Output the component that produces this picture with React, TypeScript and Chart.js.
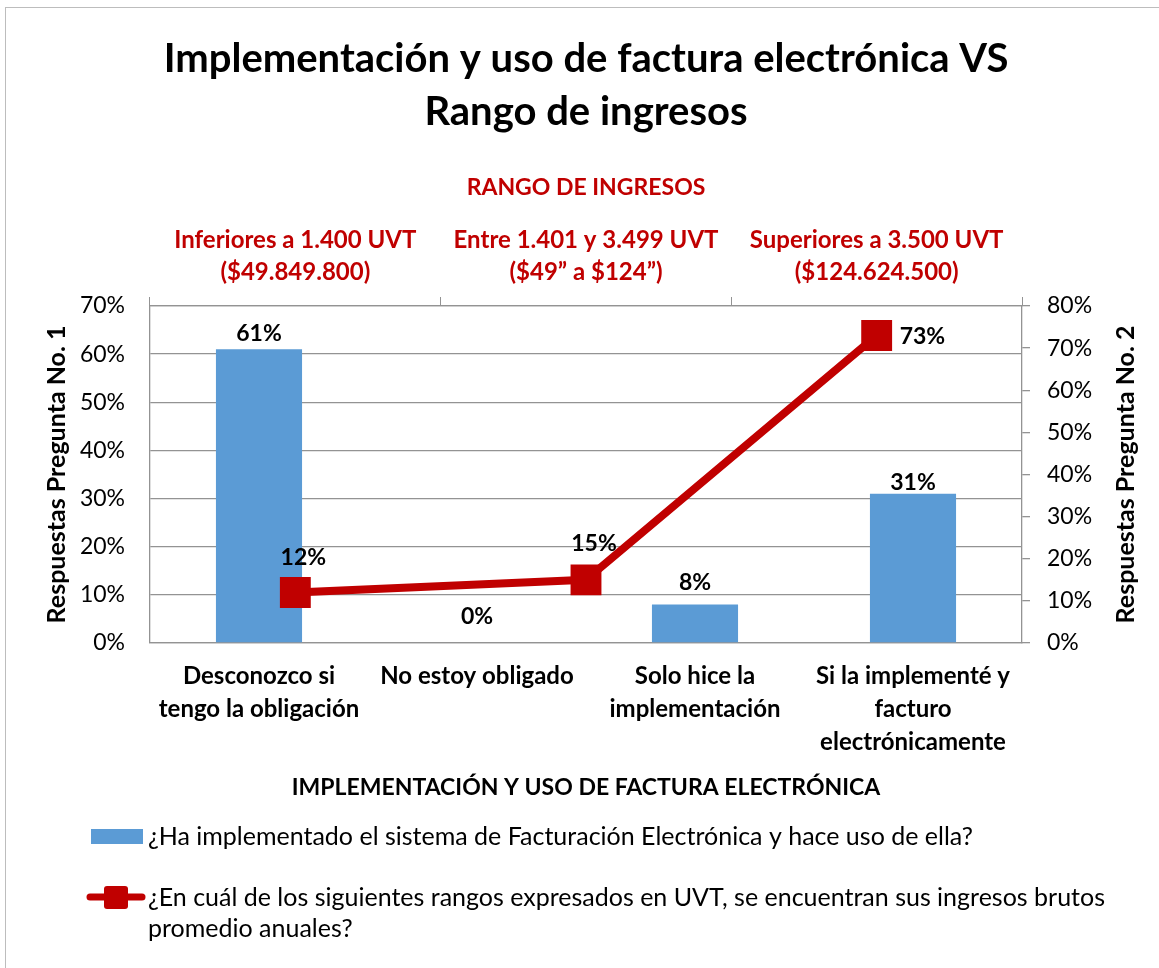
import React, { useEffect, useRef } from 'react';
import { Chart, registerables } from 'chart.js';

Chart.register(...registerables);

// ---------- data ----------
const TITLE_LINES = ['Implementación y uso de factura electrónica VS', 'Rango de ingresos'];
const RESPONSE_CATEGORIES = [
  ['Desconozco si', 'tengo la obligación'],
  ['No estoy obligado'],
  ['Solo hice la', 'implementación'],
  ['Si la implementé y', 'facturo', 'electrónicamente'],
];
const INCOME_RANGES = [
  ['Inferiores a 1.400 UVT', '($49.849.800)'],
  ['Entre 1.401 y 3.499 UVT', '($49\u201D a $124\u201D)'],
  ['Superiores a 3.500 UVT', '($124.624.500)'],
];
const Q1_VALUES = [61, 0, 8, 31];
const Q2_VALUES = [12, 15, 73];
const Q1_LABEL = '¿Ha implementado el sistema de Facturación Electrónica y hace uso de ella?';
const Q2_LABEL = '¿En cuál de los siguientes rangos expresados en UVT, se encuentran sus ingresos brutos promedio anuales?';
const X_TITLE = 'IMPLEMENTACIÓN Y USO DE FACTURA ELECTRÓNICA';
const X2_TITLE = 'RANGO DE INGRESOS';
const Y_TITLE = 'Respuestas Pregunta No. 1';
const Y2_TITLE = 'Respuestas Pregunta No. 2';

// ---------- styles ----------
const FONT = 'Lato, "Open Sans", sans-serif';
const BLUE = '#5B9BD5';
const RED = '#C00000';
const GRID = '#939393';
const TEXT = '#000000';

const pct = (v: number | string) => `${v}%`;

const customPlugin = {
  id: 'custom',
  beforeDraw(chart: any) {
    const { ctx } = chart;
    ctx.save();
    ctx.strokeStyle = '#BDBDBD';
    ctx.lineWidth = 1;
    ctx.strokeRect(5.5, 7.5, 3000, 3000);
    ctx.restore();
  },
  afterDatasetsDraw(chart: any) {
    const { ctx } = chart;
    ctx.save();
    ctx.font = `bold 23px ${FONT}`;
    ctx.fillStyle = TEXT;
    ctx.textBaseline = 'middle';
    // bar labels
    const barOffsets = [16, 26, 22, 11];
    const barMeta = chart.getDatasetMeta(1);
    barMeta.data.forEach((el: any, i: number) => {
      ctx.textAlign = 'center';
      ctx.fillText(pct(chart.data.datasets[1].data[i]), el.x, el.y - barOffsets[i]);
    });
    // line labels
    const lineOffsets = [
      { dx: 8, dy: -35, align: 'center' },
      { dx: 8, dy: -36, align: 'center' },
      { dx: 23, dy: 1, align: 'left' },
    ];
    const lineMeta = chart.getDatasetMeta(0);
    lineMeta.data.forEach((el: any, i: number) => {
      const o = lineOffsets[i];
      ctx.textAlign = o.align;
      ctx.fillText(pct(chart.data.datasets[0].data[i]), el.x + o.dx, el.y + o.dy);
    });
    ctx.restore();
  },
  afterDraw(chart: any) {
    const { ctx, chartArea } = chart;
    ctx.save();
    // right axis title (reads bottom to top)
    ctx.font = `bold 25px ${FONT}`;
    ctx.fillStyle = TEXT;
    ctx.textAlign = 'center';
    ctx.textBaseline = 'middle';
    ctx.translate(1126, (chartArea.top + chartArea.bottom) / 2);
    ctx.rotate(-Math.PI / 2);
    ctx.fillText(Y2_TITLE, 0, 0);
    ctx.restore();

    // legend
    ctx.save();
    const ds = chart.data.datasets;
    ctx.font = `25px ${FONT}`;
    ctx.fillStyle = TEXT;
    ctx.textBaseline = 'middle';
    ctx.textAlign = 'left';
    // item 1: bar
    ctx.fillStyle = ds[1].backgroundColor;
    ctx.fillRect(91, 829, 52, 15);
    ctx.fillStyle = TEXT;
    ctx.fillText(ds[1].label, 148, 837);
    // item 2: line
    ctx.strokeStyle = ds[0].borderColor;
    ctx.lineWidth = 7;
    ctx.lineCap = 'round';
    ctx.beginPath();
    ctx.moveTo(90, 897);
    ctx.lineTo(142, 897);
    ctx.stroke();
    ctx.fillStyle = ds[0].borderColor;
    const r = 3, x0 = 104, y0 = 886, w = 24, h = 23;
    ctx.beginPath();
    ctx.moveTo(x0 + r, y0);
    ctx.arcTo(x0 + w, y0, x0 + w, y0 + h, r);
    ctx.arcTo(x0 + w, y0 + h, x0, y0 + h, r);
    ctx.arcTo(x0, y0 + h, x0, y0, r);
    ctx.arcTo(x0, y0, x0 + w, y0, r);
    ctx.closePath();
    ctx.fill();
    ctx.fillStyle = TEXT;
    const words = String(ds[0].label).split(' ');
    const maxW = 1000;
    const lines: string[] = [];
    let cur = '';
    words.forEach((wd) => {
      const t = cur ? cur + ' ' + wd : wd;
      if (ctx.measureText(t).width > maxW && cur) {
        lines.push(cur);
        cur = wd;
      } else cur = t;
    });
    if (cur) lines.push(cur);
    lines.forEach((ln, i) => ctx.fillText(ln, 148, 898 + i * 31));
    ctx.restore();
  },
};

export default function App() {
  const ref = useRef<HTMLCanvasElement>(null);
  useEffect(() => {
    if (!ref.current) return;
    const chart = new Chart(ref.current, {
      type: 'bar',
      data: {
        datasets: [
          {
            type: 'line',
            label: Q2_LABEL,
            data: Q2_VALUES,
            xAxisID: 'x2',
            yAxisID: 'y2',
            borderColor: RED,
            backgroundColor: RED,
            borderWidth: 8,
            pointStyle: 'rect',
            pointRadius: 19,
            pointBorderWidth: 4,
            pointBorderColor: RED,
            pointBackgroundColor: RED,
            borderJoinStyle: 'round',
            tension: 0,
            order: 0,
          } as any,
          {
            type: 'bar',
            label: Q1_LABEL,
            data: Q1_VALUES,
            xAxisID: 'x',
            yAxisID: 'y',
            backgroundColor: BLUE,
            categoryPercentage: 1,
            barPercentage: 0.395,
            grouped: false,
            order: 1,
          },
        ],
      },
      options: {
        responsive: false,
        animation: false,
        devicePixelRatio: 1,
        layout: { padding: { top: 0, left: 0, right: 0, bottom: 167 } },
        plugins: {
          legend: { display: false },
          tooltip: { enabled: false },
          title: {
            display: true,
            fullSize: false,
            text: TITLE_LINES,
            color: TEXT,
            font: { family: FONT, size: 40, weight: 'bold', lineHeight: 53 / 40 },
            padding: { top: 33, bottom: 29 },
          },
        },
        scales: {
          x: {
            type: 'category',
            labels: RESPONSE_CATEGORIES as any,
            position: 'bottom',
            offset: true,
            grid: { display: true, drawOnChartArea: false, drawTicks: false, offset: true, color: GRID },
            border: { display: true, color: GRID, width: 1.3 },
            ticks: {
              color: TEXT,
              font: { family: FONT, size: 24, weight: 'bold', lineHeight: 33 / 24 },
              padding: 17,
              maxRotation: 0,
              autoSkip: false,
            },
            title: {
              display: true,
              text: X_TITLE,
              color: TEXT,
              font: { family: FONT, size: 23, weight: 'bold', lineHeight: 1.2 },
              padding: { top: 0, bottom: 0 },
            },
            afterFit: (s: any) => { s.height = 158; },
          },
          x2: {
            type: 'category',
            labels: INCOME_RANGES as any,
            position: 'top',
            offset: true,
            grid: { display: true, drawOnChartArea: false, drawTicks: true, tickLength: 9, offset: true, color: GRID },
            border: { display: true, color: GRID, width: 1.3 },
            ticks: {
              color: RED,
              font: { family: FONT, size: 24, weight: 'bold', lineHeight: 32 / 24 },
              padding: 9,
              maxRotation: 0,
              autoSkip: false,
            },
            title: {
              display: true,
              text: X2_TITLE,
              color: RED,
              font: { family: FONT, size: 23, weight: 'bold', lineHeight: 1.2 },
              padding: { top: 6, bottom: 0 },
            },
            afterFit: (s: any) => { s.height = 138; },
          },
          y: {
            position: 'left',
            min: 0,
            max: 70,
            ticks: {
              stepSize: 10,
              callback: (v: any) => pct(v),
              color: TEXT,
              font: { family: FONT, size: 23 },
              padding: 25,
            },
            grid: { color: GRID, lineWidth: 1.3, drawTicks: false },
            border: { display: true, color: GRID, width: 1.3 },
            title: {
              display: true,
              text: Y_TITLE,
              color: TEXT,
              font: { family: FONT, size: 25, weight: 'bold', lineHeight: 1.2 },
              padding: { top: 42, bottom: 0 },
            },
            afterFit: (s: any) => { s.width = 150; },
          },
          y2: {
            position: 'right',
            min: 0,
            max: 80,
            ticks: {
              stepSize: 10,
              callback: (v: any) => pct(v),
              color: TEXT,
              font: { family: FONT, size: 23 },
              padding: 17,
            },
            grid: { display: true, drawOnChartArea: false, drawTicks: true, tickLength: 8, color: GRID, lineWidth: 1.3 },
            border: { display: true, color: GRID, width: 1.3 },
            afterFit: (s: any) => { s.width = 137; },
          },
        },
      } as any,
      plugins: [customPlugin],
    });
    return () => chart.destroy();
  }, []);

  return (
    <div style={{ position: 'absolute', left: 0, top: 0, width: 1159, height: 968, background: '#fff' }}>
      <canvas ref={ref} width={1159} height={968} style={{ display: 'block', width: 1159, height: 968 }} />
    </div>
  );
}
